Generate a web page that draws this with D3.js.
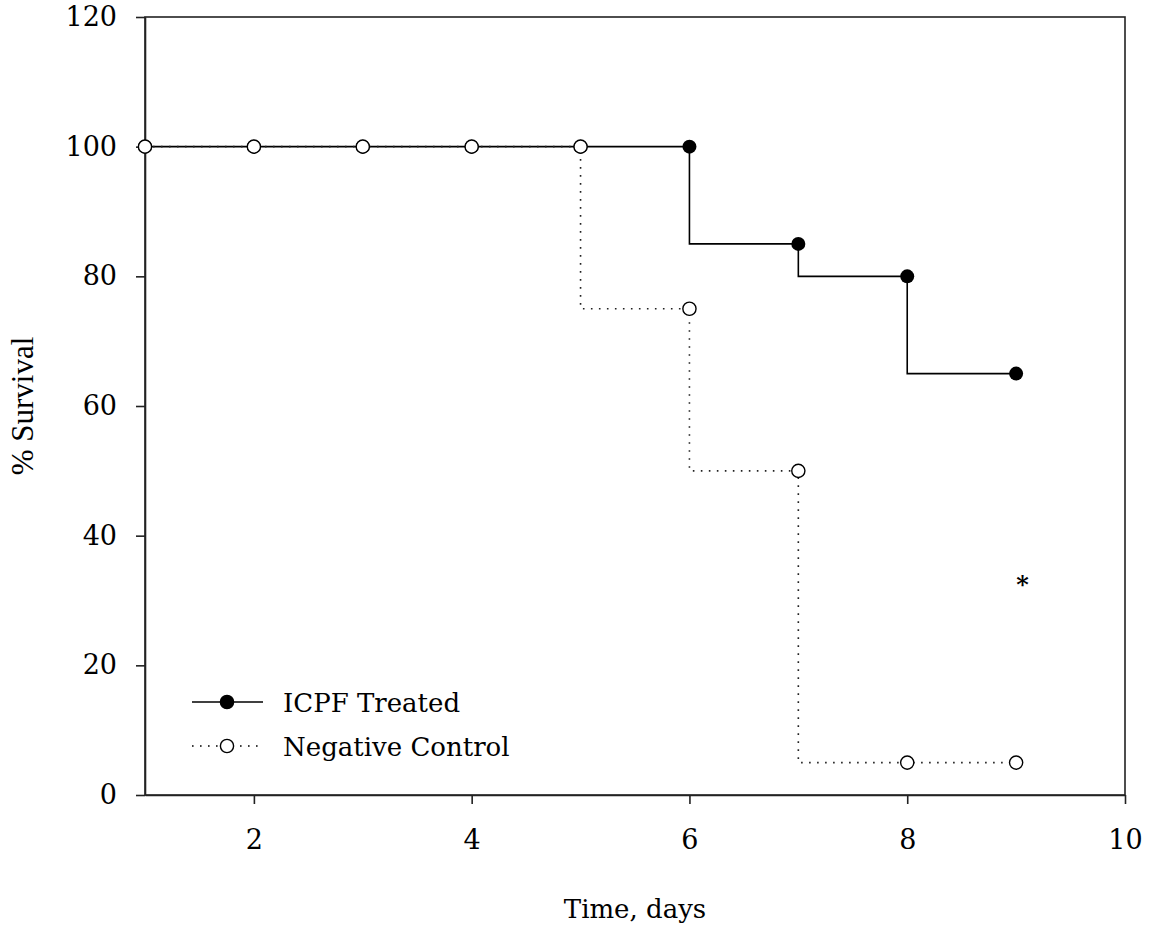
<!DOCTYPE html>
<html><head><meta charset="utf-8">
<script src="https://cdn.jsdelivr.net/npm/d3@7"></script>
<style>body{margin:0;background:#fff}</style>
</head><body>
<svg id="chart" width="1150" height="926"></svg>
<script>
const days = [1,2,3,4,5,6,7,8,9];
const treated = [100,100,100,100,100,100,85,80,65];
const control = [100,100,100,100,100,75,50,5,5];
const seriesNames = ["ICPF Treated","Negative Control"];
const xTicks = [2,4,6,8,10];
const yTicks = [0,20,40,60,80,100,120];
const xTitle = "Time, days";
const yTitle = "% Survival";
const annotation = {x: 9.06, y: 33, text: "*"};

const svg = d3.select("#chart");
const m = {l:145, r:1125, t:17, b:795};
const x = d3.scaleLinear().domain([1,10]).range([m.l, m.r]);
const y = d3.scaleLinear().domain([0,120]).range([m.b, m.t]);
const tickFont = "'DejaVu Serif', serif";

// frame
svg.append("rect").attr("x",m.l).attr("y",m.t).attr("width",m.r-m.l).attr("height",m.b-m.t)
  .attr("fill","none").attr("stroke","#222").attr("stroke-width",1.6);

const xAxis = svg.append("g").attr("transform",`translate(0,${m.b})`)
  .call(d3.axisBottom(x).tickValues(xTicks).tickSizeInner(9).tickSizeOuter(0).tickPadding(26).tickFormat(d3.format("d")));
const yAxis = svg.append("g").attr("transform",`translate(${m.l},0)`)
  .call(d3.axisLeft(y).tickValues(yTicks).tickSizeInner(9).tickSizeOuter(0).tickPadding(19).tickFormat(d3.format("d")));
[xAxis,yAxis].forEach(a=>{
  a.select(".domain").attr("stroke","#222").attr("stroke-width",1.6);
  a.selectAll(".tick line").attr("stroke","#222").attr("stroke-width",1.6);
  a.selectAll("text").attr("font-family",tickFont).attr("font-size",27).attr("fill","#000");
});

svg.append("text").attr("x",(m.l+m.r)/2).attr("y",918).attr("text-anchor","middle")
  .attr("font-family",tickFont).attr("font-size",26).text(xTitle);
svg.append("text").attr("transform",`translate(33,${(m.t+m.b)/2}) rotate(-90)`).attr("text-anchor","middle")
  .attr("font-family","'Liberation Serif', serif").attr("font-size",31).text(yTitle);

const line = d3.line().x((d,i)=>x(days[i])).y(d=>y(d)).curve(d3.curveStepBefore);
svg.append("path").datum(treated).attr("d",line).attr("fill","none").attr("stroke","#000").attr("stroke-width",1.6);
svg.append("path").datum(control).attr("d",line).attr("fill","none").attr("stroke","#222")
  .attr("stroke-width",1.6).attr("stroke-dasharray","1.6,6.4");

svg.append("g").selectAll("circle").data(treated).join("circle")
  .attr("cx",(d,i)=>x(days[i])).attr("cy",d=>y(d)).attr("r",7).attr("fill","#000");
svg.append("g").selectAll("circle").data(control).join("circle")
  .attr("cx",(d,i)=>x(days[i])).attr("cy",d=>y(d)).attr("r",6.6).attr("fill","#fff")
  .attr("stroke","#000").attr("stroke-width",1.4);

svg.append("text").attr("x",x(annotation.x)).attr("y",y(annotation.y)+12).attr("text-anchor","middle")
  .attr("font-family",tickFont).attr("font-size",24).attr("font-weight","bold").text(annotation.text);

// legend
const leg = svg.append("g");
const rows = [{y:702, dash:null, fill:"#000"},{y:746, dash:"1.6,6.4", fill:"#fff"}];
rows.forEach((r,i)=>{
  leg.append("line").attr("x1",192).attr("x2",263).attr("y1",r.y).attr("y2",r.y)
    .attr("stroke","#000").attr("stroke-width",1.6).attr("stroke-dasharray",r.dash);
  leg.append("circle").attr("cx",227).attr("cy",r.y).attr("r",6.6).attr("fill",r.fill)
    .attr("stroke","#000").attr("stroke-width",1.4);
  leg.append("text").attr("x",283).attr("y",r.y+10).attr("font-family",tickFont).attr("font-size",26)
    .text(seriesNames[i]);
});
</script>
</body></html>
